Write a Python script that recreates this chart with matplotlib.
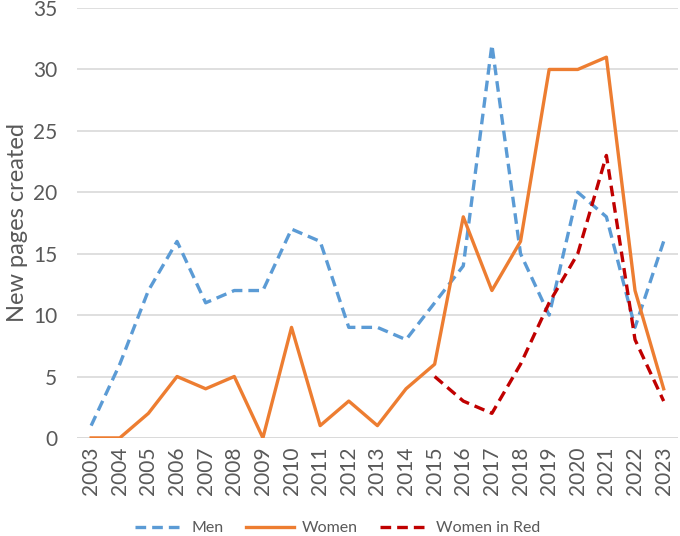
import matplotlib
matplotlib.use("Agg")
import matplotlib.pyplot as plt

years = [str(y) for y in range(2003, 2024)]
men = [1, 6, 12, 16, 11, 12, 12, 17, 16, 9, 9, 8, 11, 14, 32, 15, 10, 20, 18, 9, 16]
women = [0, 0, 2, 5, 4, 5, 0, 9, 1, 3, 1, 4, 6, 18, 12, 16, 30, 30, 31, 12, 4]
wir_years = [str(y) for y in range(2015, 2024)]
wir = [5, 3, 2, 6, 11, 15, 23, 8, 3]

plt.rcParams['font.family'] = ['Lato', 'DejaVu Sans']
grey = '#595959'

fig = plt.figure(figsize=(6.8, 5.36), dpi=100)
ax = fig.add_axes([0.113, 0.183, 0.884, 0.802])

x = list(range(len(years)))
xw = [years.index(y) for y in wir_years]
lw = 2.4
ax.plot(x, men, color='#5B9BD5', lw=lw, dashes=(3.2, 1.8), label='Men')
ax.plot(x, women, color='#ED7D31', lw=lw, label='Women')
ax.plot(xw, wir, color='#C00000', lw=lw, dashes=(3.2, 1.8), label='Women in Red')

ax.set_xlim(-0.5, len(years) - 0.5)
ax.set_ylim(0, 35)
ax.set_yticks(range(0, 36, 5))
ax.set_xticks(x)
ax.set_xticklabels(years, rotation=90)
ax.tick_params(axis='both', length=0, labelsize=15, colors=grey, pad=6)
ax.tick_params(axis='y', pad=14)
ax.grid(axis='y', color='#D9D9D9', lw=1.2)
ax.set_axisbelow(True)
for s in ax.spines.values():
    s.set_visible(False)
ax.axhline(0, color='#D9D9D9', lw=1.2, zorder=0)
ax.set_ylabel('New pages created', fontsize=17, color=grey, labelpad=4)

ax.legend(loc='center', bbox_to_anchor=(0.434, -0.21), ncol=3, frameon=False,
          fontsize=11.5, labelcolor=grey, handlelength=3.0, columnspacing=1.4,
          handletextpad=0.5)

fig.savefig('out.png', dpi=100)
